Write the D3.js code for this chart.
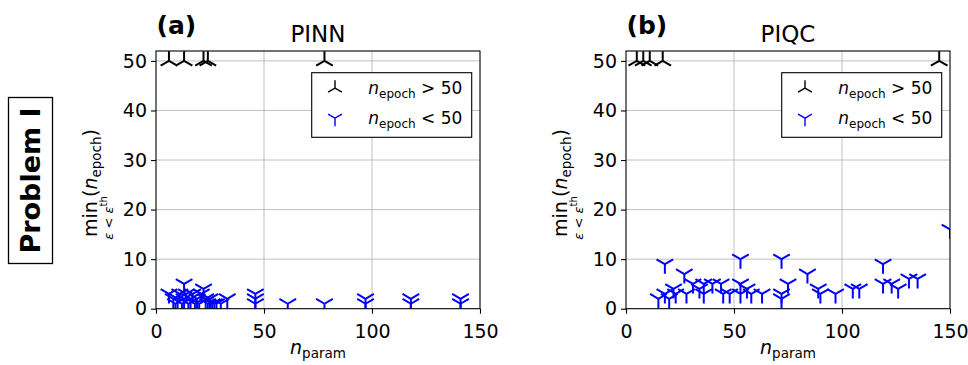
<!DOCTYPE html>
<html lang="en">
<head>
<meta charset="utf-8">
<title>Problem I - min epochs</title>
<style>
body { margin: 0; background: #fff; }
svg text { font-family: "DejaVu Sans", sans-serif; fill: #000; }
.grid line { stroke: #b0b0b0; stroke-width: 0.8; }
.axis path { display: none; }
.axis line { stroke: #000; stroke-width: 1.1; }
.axis text { font-size: 19px; }
</style>
<script src="https://d3js.org/d3.v7.min.js"></script>
</head>
<body>
<div id="chart"></div>
<script>
// ticks
const xTicks = [0, 50, 100, 150];
const yTicks = [0, 10, 20, 30, 40, 50];

// panel labels
const panelTags = ["(a)", "(b)"];
const panelTitles = ["PINN", "PIQC"];

// (n_param, min epoch)
const pinnSlow = [[6, 50], [13, 50], [22, 50], [24, 50], [78, 50]];
const pinnFast = [
  [6, 3], [8, 2], [9, 1], [10, 2], [11, 3], [12, 1], [13, 5], [13, 2], [14, 3], [15, 1],
  [16, 2], [17, 3], [18, 1], [19, 2], [20, 1], [21, 3], [22, 4], [23, 2], [24, 1], [25, 2],
  [26, 1], [27, 1], [28, 1], [30, 1], [33, 2], [46, 1], [46, 2], [46, 3], [61, 1], [78, 1],
  [97, 1], [97, 2], [118, 1], [118, 2], [141, 1], [141, 2]
];
const piqcSlow = [[5, 50], [8, 50], [11, 50], [17, 50], [145, 50]];
const piqcFast = [
  [15, 2], [18, 9], [18, 3], [20, 2], [22, 4], [23, 3], [27, 7], [28, 3], [31, 5], [34, 4],
  [36, 5], [36, 3], [40, 5], [44, 5], [45, 3], [48, 3], [53, 10], [53, 5], [53, 3], [56, 4],
  [58, 3], [63, 3], [72, 10], [72, 3], [72, 2], [75, 5], [84, 7], [89, 4], [90, 3], [97, 3],
  [105, 4], [108, 4], [119, 9], [119, 5], [123, 5], [126, 4], [131, 6], [135, 6], [150, 16]
];

const W = 968, H = 365;
const panelLeft = [156, 626];
const pw = 324, plotTop = 51, plotBottom = 308.7;

const svg = d3.select("#chart").append("svg")
  .attr("width", W).attr("height", H);

// tri_down (Y) and tri_up markers
function triDown(r) {
  const a = 0.866 * r, b = 0.5 * r;
  return `M0,0L0,${r}M0,0L${a},${-b}M0,0L${-a},${-b}`;
}
function triUp(r) {
  const a = 0.866 * r, b = 0.5 * r;
  return `M0,0L0,${-r}M0,0L${a},${b}M0,0L${-a},${b}`;
}

// Problem I box
svg.append("rect").attr("x", 8.5).attr("y", 97.5).attr("width", 44).attr("height", 166)
  .attr("fill", "none").attr("stroke", "#000").attr("stroke-width", 1.3);
svg.append("text")
  .attr("transform", "translate(40,180.5) rotate(-90)")
  .attr("text-anchor", "middle")
  .style("font-size", "27px").style("font-weight", "bold")
  .text("Problem I");

const panels = [
  { slow: pinnSlow, fast: pinnFast },
  { slow: piqcSlow, fast: piqcFast }
];

panels.forEach((p, i) => {
  const x0 = panelLeft[i];
  const x = d3.scaleLinear().domain([0, 150]).range([x0, x0 + pw]);
  const y = d3.scaleLinear().domain([0, 52]).range([plotBottom, plotTop]);
  const g = svg.append("g");

  g.append("clipPath").attr("id", "clip" + i)
    .append("rect").attr("x", x0).attr("y", plotTop).attr("width", pw).attr("height", plotBottom - plotTop);

  // grid
  const grid = g.append("g").attr("class", "grid");
  grid.selectAll(".gx").data(xTicks.slice(1, -1)).join("line")
    .attr("x1", d => x(d)).attr("x2", d => x(d)).attr("y1", plotTop).attr("y2", plotBottom);
  grid.selectAll(".gy").data(yTicks.slice(1)).join("line")
    .attr("x1", x0).attr("x2", x0 + pw).attr("y1", d => y(d)).attr("y2", d => y(d));

  // markers
  const marks = g.append("g").attr("clip-path", `url(#clip${i})`);
  marks.selectAll(".slow").data(p.slow).join("path")
    .attr("transform", d => `translate(${x(d[0])},${y(d[1])})`)
    .attr("d", triUp(9.6)).attr("fill", "none").attr("stroke", "#000").attr("stroke-width", 2);
  marks.selectAll(".fast").data(p.fast).join("path")
    .attr("transform", d => `translate(${x(d[0])},${y(d[1])})`)
    .attr("d", triDown(9.6)).attr("fill", "none").attr("stroke", "#0000ff").attr("stroke-width", 2);

  // axes
  g.append("g").attr("class", "axis").attr("transform", `translate(0,${plotBottom})`)
    .call(d3.axisBottom(x).tickValues(xTicks).tickSize(5).tickPadding(6).tickSizeOuter(0))
    .selectAll("text").attr("dy", "0.95em");
  g.append("g").attr("class", "axis").attr("transform", `translate(${x0},0)`)
    .call(d3.axisLeft(y).tickValues(yTicks).tickSize(5).tickPadding(4).tickSizeOuter(0));

  // frame
  g.append("rect").attr("x", x0).attr("y", plotTop).attr("width", pw).attr("height", plotBottom - plotTop)
    .attr("fill", "none").attr("stroke", "#000").attr("stroke-width", 1.1);

  // titles
  g.append("text").attr("x", x0 + 0.5).attr("y", 33.5)
    .style("font-size", "25px").style("font-weight", "bold").text(panelTags[i]);
  g.append("text").attr("x", x0 + pw / 2).attr("y", 41.7).attr("text-anchor", "middle")
    .style("font-size", "23px").text(panelTitles[i]);

  // x label
  const xl = g.append("text").attr("x", x0 + pw / 2).attr("y", 354).attr("text-anchor", "middle")
    .style("font-size", "19px");
  xl.append("tspan").style("font-style", "italic").text("n");
  xl.append("tspan").attr("dy", 4).style("font-size", "13.5px").text("param");

  // y label
  const yl = g.append("g").attr("transform", `translate(${x0 - 59},0) rotate(-90)`);
  yl.append("text").attr("x", -237).attr("y", 0).style("font-size", "19px").text("min");
  const sub = yl.append("text").attr("x", -218).attr("y", 16).attr("text-anchor", "middle")
    .style("font-size", "13px");
  sub.append("tspan").style("font-style", "italic").text("ε");
  sub.append("tspan").text(" < ");
  sub.append("tspan").style("font-style", "italic").text("ε");
  sub.append("tspan").attr("dy", -6).style("font-size", "10px").text("th");
  const nl = yl.append("text").attr("x", -197).attr("y", 0).style("font-size", "19px");
  nl.append("tspan").text("(");
  nl.append("tspan").style("font-style", "italic").text("n");
  nl.append("tspan").attr("dy", 4).style("font-size", "13.5px").text("epoch");
  nl.append("tspan").attr("dy", -4).text(")");

  // legend
  const lx = x0 + pw - 8.3 - 160, ly = 72.7;
  const lg = g.append("g");
  lg.append("rect").attr("x", lx).attr("y", ly).attr("width", 160).attr("height", 64.6)
    .attr("fill", "#fff").attr("stroke", "#000").attr("stroke-width", 1.1);
  const rows = [
    { d: triUp(8), c: "#000", op: ">" },
    { d: triDown(8), c: "#0000ff", op: "<" }
  ];
  rows.forEach((r, k) => {
    const cy = ly + 15.5 + k * 30;
    lg.append("path").attr("transform", `translate(${lx + 23.3},${cy})`)
      .attr("d", r.d).attr("fill", "none").attr("stroke", r.c).attr("stroke-width", 1.4);
    const t = lg.append("text").attr("x", lx + 56.6).attr("y", cy + 6).style("font-size", "17px");
    t.append("tspan").style("font-style", "italic").text("n");
    t.append("tspan").attr("dy", 4).style("font-size", "12px").text("epoch");
    t.append("tspan").attr("dy", -4).text(" " + r.op + " 50");
  });
});
</script>
</body>
</html>
